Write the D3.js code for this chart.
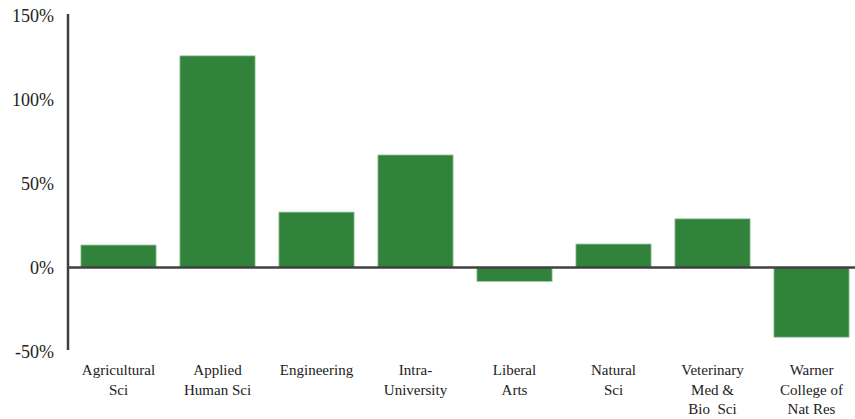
<!DOCTYPE html>
<html><head><meta charset="utf-8">
<script src="https://cdn.jsdelivr.net/npm/d3@7"></script>
<style>body{margin:0;background:#fff}svg{display:block}
svg text{font-family:"Liberation Serif","Times New Roman",serif;}</style>
</head><body>
<svg id="c" width="855" height="419"></svg>
<script>
const categories = [
  ["Agricultural","Sci"],
  ["Applied","Human Sci"],
  ["Engineering"],
  ["Intra-","University"],
  ["Liberal","Arts"],
  ["Natural","Sci"],
  ["Veterinary","Med &","Bio  Sci"],
  ["Warner","College of","Nat Res"]
];
const values = [13.4, 126, 33, 67, -8.4, 14, 29, -41.5];
const yTicks = [-50, 0, 50, 100, 150];

const svg = d3.select("#c");
const x = d3.scaleBand().domain(d3.range(categories.length)).range([69, 861]).paddingInner(0.24).paddingOuter(0.12);
const y = d3.scaleLinear().domain([-50, 150]).range([351.5, 15.5]);

svg.selectAll("rect.bar").data(values).join("rect")
  .attr("class","bar")
  .attr("x",(d,i)=>x(i))
  .attr("width",x.bandwidth())
  .attr("y",d=>y(Math.max(0,d)))
  .attr("height",d=>Math.abs(y(d)-y(0)))
  .attr("fill","#31823b")
  .attr("stroke","#a9cfae").attr("stroke-width",0.8);

const yAxis = d3.axisLeft(y).tickValues(yTicks).tickSize(0).tickPadding(14).tickFormat(d=>d+"%");
const ga = svg.append("g").attr("transform","translate(68,0)").call(yAxis);
ga.attr("font-family",null).attr("font-size",null);
ga.select(".domain").remove();
ga.selectAll("text").style("font-size","18px").attr("fill","#222");
svg.append("line").attr("x1",68).attr("x2",68).attr("y1",14).attr("y2",350)
  .attr("stroke","#404040").attr("stroke-width",2.5);
svg.append("line").attr("x1",67).attr("x2",855).attr("y1",y(0)).attr("y2",y(0))
  .attr("stroke","#404040").attr("stroke-width",2.5);

const lab = svg.selectAll("text.cat").data(categories).join("text")
  .attr("class","cat")
  .attr("text-anchor","middle")
  .style("font-size","15px").attr("fill","#222")
  .attr("transform",(d,i)=>`translate(${x(i)+x.bandwidth()/2},375)`);
lab.selectAll("tspan").data(d=>d).join("tspan")
  .attr("x",0).attr("y",(d,j)=>j*19.5)
  .attr("xml:space","preserve")
  .style("white-space","pre")
  .text(d=>d);
</script>
</body></html>
